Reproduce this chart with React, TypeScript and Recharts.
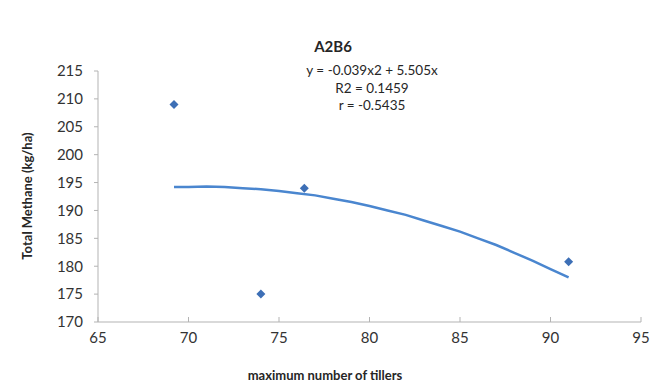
import React from 'react';
import { ScatterChart, Scatter, XAxis, YAxis, Customized } from 'recharts';

const tillers = [69.2, 74.0, 76.4, 91.0];
const methane = [209.0, 175.0, 194.0, 180.8];

const trendX = [69.2, 70, 71, 72, 73, 74, 75, 76, 77, 78, 79, 80, 81, 82, 83, 84, 85, 86, 87, 88, 89, 90, 91];
const trendY = [194.2, 194.2, 194.3, 194.2, 194.0, 193.8, 193.5, 193.1, 192.7, 192.1, 191.5, 190.8, 190.0, 189.2, 188.2, 187.2, 186.2, 185.0, 183.8, 182.4, 181.0, 179.5, 178.0];

const xTicks = [65, 70, 75, 80, 85, 90, 95];
const yTicks = [170, 175, 180, 185, 190, 195, 200, 205, 210, 215];

const title = 'A2B6';
const equationLines = ['y = -0.039x2 + 5.505x', 'R2 = 0.1459', 'r = -0.5435'];
const xLabel = 'maximum number of tillers';
const yLabel = 'Total Methane (kg/ha)';

const points = tillers.map((x, i) => ({ x, y: methane[i] }));
const trend = trendX.map((x, i) => ({ x, y: trendY[i] }));

const FONT = 'Lato, "Open Sans", sans-serif';

const Diamond = (props: any) => {
  const { cx, cy } = props;
  const r = 4.5;
  return (
    <polygon
      points={`${cx},${cy - r} ${cx + r},${cy} ${cx},${cy + r} ${cx - r},${cy}`}
      fill="#3d6fb6"
    />
  );
};

const NoShape = () => <g />;

const Overlay = () => (
  <g fontFamily={FONT}>
    <text x={333} y={46} textAnchor="middle" dominantBaseline="central" fontSize={15} fontWeight="bold" fill="#262626">
      {title}
    </text>
    {equationLines.map((t, i) => (
      <text key={i} x={372} y={70 + i * 17.5} textAnchor="middle" dominantBaseline="central" fontSize={13.5} fill="#262626">
        {t}
      </text>
    ))}
    <text x={325} y={375} textAnchor="middle" dominantBaseline="central" fontSize={13} fontWeight="bold" fill="#262626">
      {xLabel}
    </text>
    <text x={27} y={196} transform="rotate(-90 27 196)" textAnchor="middle" dominantBaseline="central" fontSize={13} fontWeight="bold" fill="#262626">
      {yLabel}
    </text>
  </g>
);

export default function App() {
  return (
    <div style={{ position: 'absolute', left: 0, top: 0, width: 666, height: 386, background: '#fff' }}>
      <ScatterChart width={666} height={386} margin={{ top: 71, right: 25, bottom: 34, left: 0 }}>
        <XAxis
          type="number"
          dataKey="x"
          domain={[65, 95]}
          ticks={xTicks}
          height={30}
          axisLine={{ stroke: '#b3b3b3' }}
          tickLine={{ stroke: '#b3b3b3' }}
          tickSize={-5}
          tickMargin={15}
          tick={{ fill: '#333333', fontSize: 15, fontFamily: FONT }}
          allowDataOverflow
        />
        <YAxis
          type="number"
          dataKey="y"
          domain={[170, 215]}
          ticks={yTicks}
          width={98}
          axisLine={{ stroke: '#b3b3b3' }}
          tickLine={{ stroke: '#b3b3b3' }}
          tickSize={4}
          tickMargin={11}
          tick={{ fill: '#333333', fontSize: 15, fontFamily: FONT }}
          allowDataOverflow
        />
        <Scatter
          data={trend}
          line={{ stroke: '#4a86cf', strokeWidth: 2.5 }}
          lineType="joint"
          shape={NoShape}
          isAnimationActive={false}
        />
        <Scatter data={points} shape={Diamond} isAnimationActive={false} />
        <Customized component={Overlay} />
      </ScatterChart>
    </div>
  );
}
